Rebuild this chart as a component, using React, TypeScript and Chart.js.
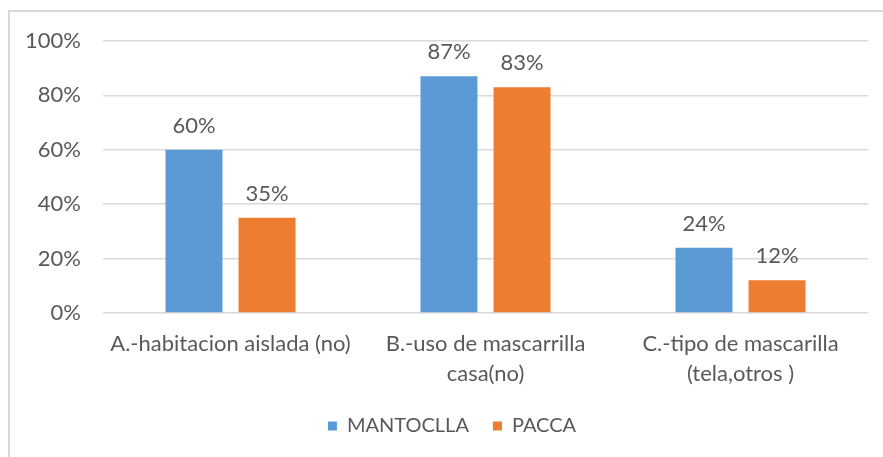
import React, { useEffect, useRef } from "react";
import { Chart, registerables } from "chart.js";

Chart.register(...registerables);

// Categories (multi-line labels) and the two series, in percent
const categories: string[][] = [
  ["A.-habitacion aislada (no)"],
  ["B.-uso de mascarrilla", "casa(no)"],
  ["C.-tipo de mascarilla", "(tela,otros )"],
];
const seriesNames = ["MANTOCLLA", "PACCA"];
const mantoclla = [60, 87, 24];
const pacca = [35, 83, 12];
const yMin = 0;
const yMax = 100;
const yStep = 20;

const FONT = "Lato, 'Open Sans', sans-serif";
const TEXT = "#595959";
const GRID = "#d9d9d9";
const BLUE = "#5b9bd5";
const ORANGE = "#ed7d31";

// Writes the value above each bar
const valueLabels = {
  id: "valueLabels",
  afterDatasetsDraw(chart: any) {
    const ctx = chart.ctx;
    ctx.save();
    ctx.font = `22px ${FONT}`;
    ctx.fillStyle = TEXT;
    ctx.textAlign = "center";
    ctx.textBaseline = "alphabetic";
    chart.data.datasets.forEach((ds: any, i: number) => {
      chart.getDatasetMeta(i).data.forEach((bar: any, j: number) => {
        ctx.fillText(`${ds.data[j]}%`, bar.x, bar.y - 17);
      });
    });
    ctx.restore();
  },
};

// Centres the legend under the plot area instead of the whole canvas
const legendOffset = {
  id: "legendOffset",
  afterLayout(chart: any) {
    const lg = chart.legend;
    if (lg) lg.left += 26;
  },
};

export default function App() {
  const canvasRef = useRef<HTMLCanvasElement | null>(null);

  useEffect(() => {
    if (!canvasRef.current) return;
    const chart = new Chart(canvasRef.current, {
      type: "bar",
      data: {
        labels: categories,
        datasets: [
          {
            label: seriesNames[0],
            data: mantoclla,
            backgroundColor: BLUE,
            categoryPercentage: 0.573,
            barPercentage: 0.78,
          },
          {
            label: seriesNames[1],
            data: pacca,
            backgroundColor: ORANGE,
            categoryPercentage: 0.573,
            barPercentage: 0.78,
          },
        ],
      },
      options: {
        animation: false,
        responsive: false,
        maintainAspectRatio: false,
        layout: { padding: { left: 10, right: 15, top: 41, bottom: 11 } },
        plugins: {
          tooltip: { enabled: false },
          legend: {
            position: "bottom",
            labels: {
              boxWidth: 9,
              boxHeight: 9,
              padding: 24,
              color: TEXT,
              font: { family: FONT, size: 20 },
            },
          },
        },
        scales: {
          x: {
            grid: { display: false, drawTicks: false },
            border: { display: false },
            ticks: {
              color: TEXT,
              font: { family: FONT, size: 22, lineHeight: 1.36 },
              padding: 16,
              maxRotation: 0,
              autoSkip: false,
            },
            afterFit(scale: any) {
              scale.height = 79;
            },
          },
          y: {
            min: yMin,
            max: yMax,
            grid: { color: GRID, lineWidth: 1.5, drawTicks: false },
            border: { display: false },
            ticks: {
              stepSize: yStep,
              color: TEXT,
              padding: 22,
              font: { family: FONT, size: 22 },
              callback: (v: any) => `${v}%`,
            },
            afterFit(scale: any) {
              scale.width = 93;
            },
          },
        },
      },
      plugins: [valueLabels, legendOffset],
    });
    return () => chart.destroy();
  }, []);

  return (
    <div
      style={{
        position: "fixed",
        left: 0,
        top: 0,
        width: 883,
        height: 457,
        background: "#fff",
        overflow: "hidden",
      }}
    >
      <div
        style={{
          position: "absolute",
          left: 8,
          top: 10,
          width: 900,
          height: 500,
          border: `2px solid ${GRID}`,
          boxSizing: "border-box",
        }}
      />
      <canvas
        ref={canvasRef}
        width={883}
        height={457}
        style={{ position: "absolute", left: 0, top: 0 }}
      />
    </div>
  );
}
